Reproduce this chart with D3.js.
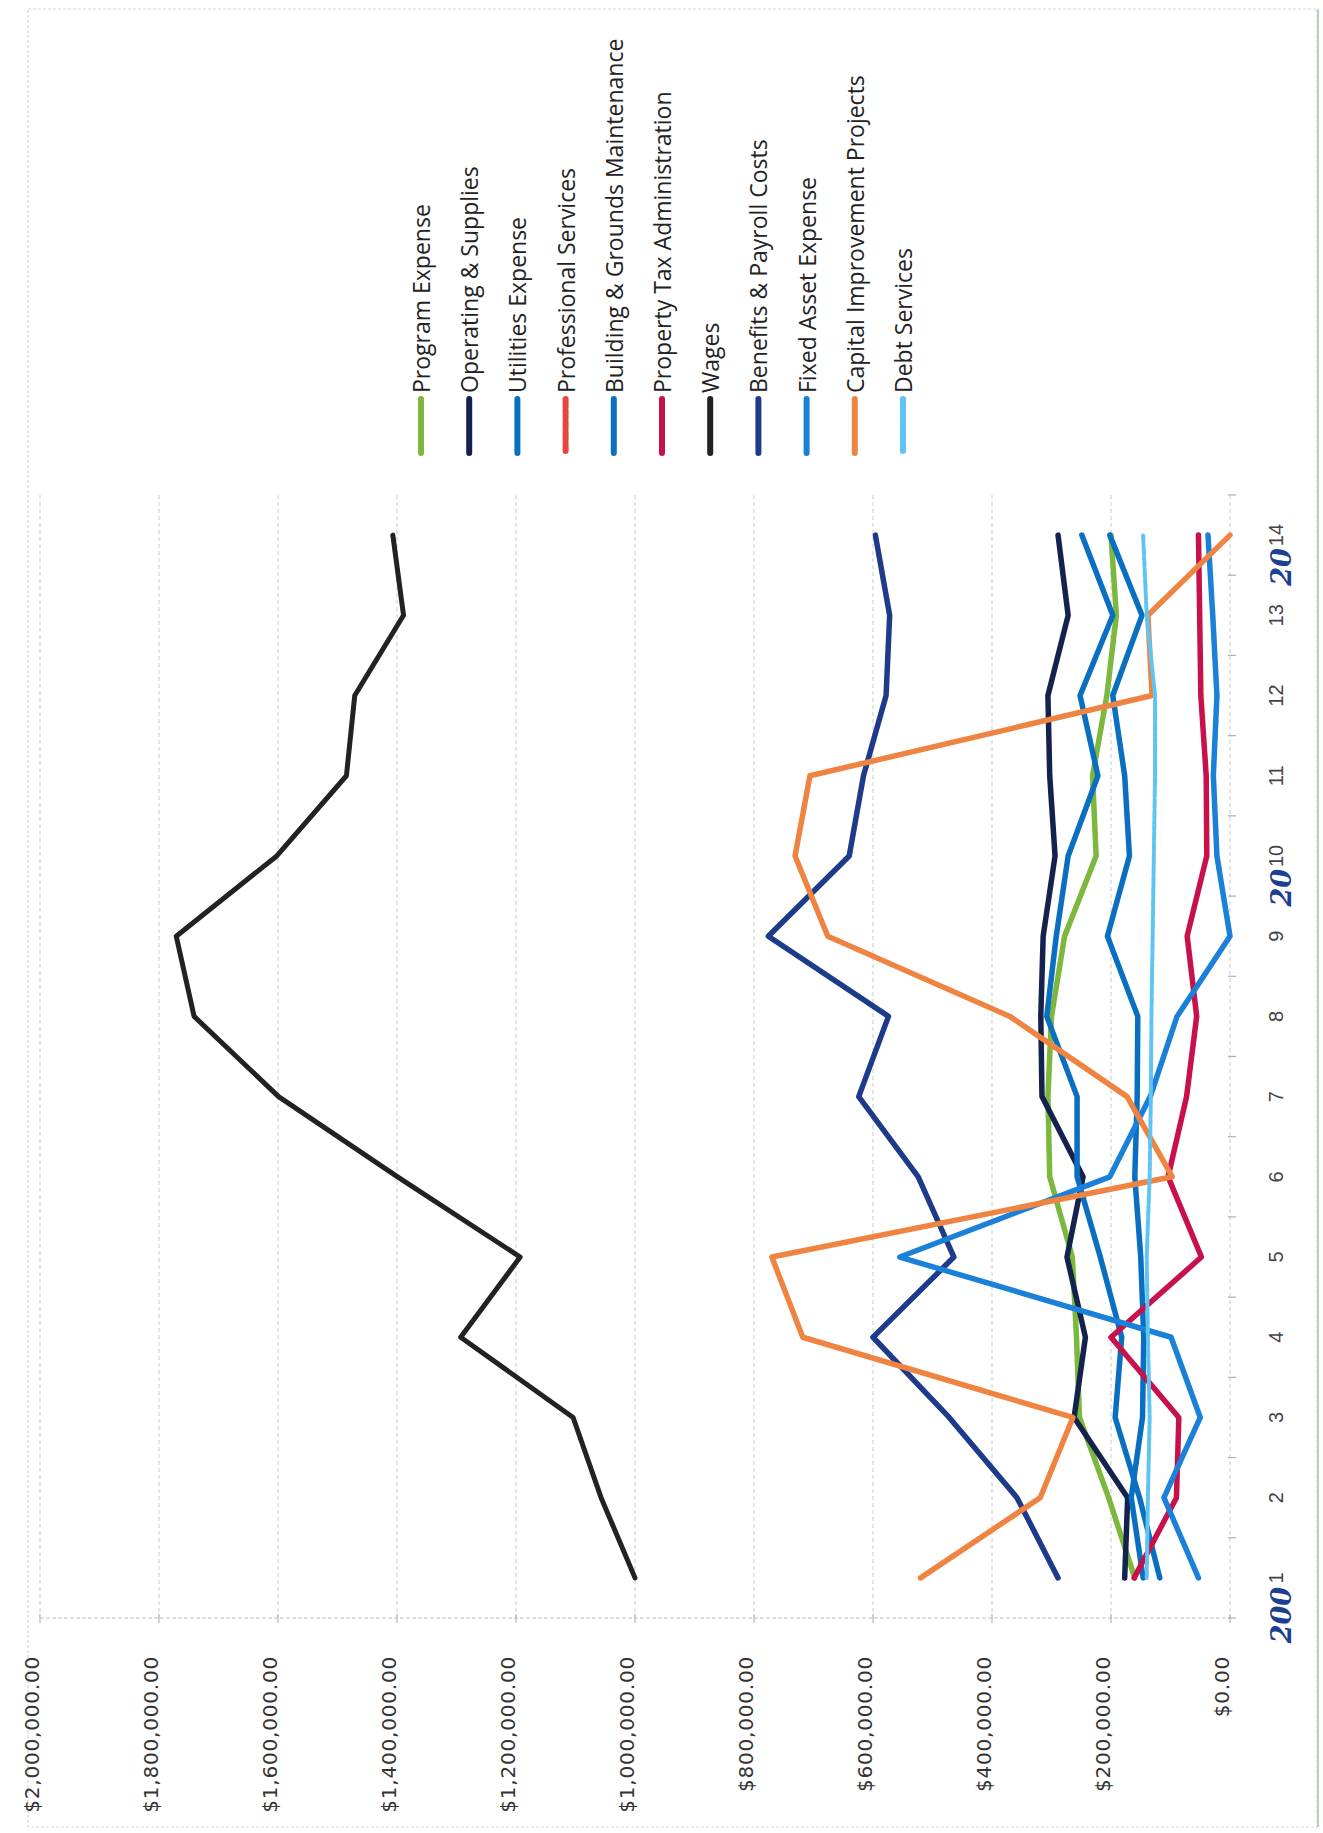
<!DOCTYPE html>
<html><head><meta charset="utf-8">
<script src="https://cdn.jsdelivr.net/npm/d3@7"></script>
<style>body{margin:0;background:#fff}svg{display:block}</style>
</head><body>
<svg id="chart" width="1323" height="1833"></svg>
<script>
// ---- data ----
const categories = ["1","2","3","4","5","6","7","8","9","10","11","12","13","14"];
const programExpense       = [160000, 204000, 253000, 258000, 265000, 303000, 306000, 300000, 278000, 225000, 231000, 207000, 191000, 200000];
const operatingSupplies    = [177000, 172000, 262000, 243000, 274000, 247000, 316000, 318000, 314000, 294000, 303000, 306000, 272000, 289000];
const utilitiesExpense     = [146000, 166000, 147000, 145000, 150000, 160000, 156000, 155000, 206000, 169000, 177000, 197000, 148000, 202000];
const professionalServices = [null, null, null, null, null, null, null, null, null, null, null, null, null, null];
const buildingGrounds      = [118000, 152000, 193000, 182000, 218000, 257000, 257000, 308000, 292000, 272000, 222000, 252000, 197000, 249000];
const propertyTaxAdmin     = [161000, 90000, 86000, 200000, 48000, 104000, 73000, 56000, 72000, 39000, 40000, 49000, 51000, 53000];
const wages                = [1000000, 1057000, 1104000, 1293000, 1193000, 1399000, 1599000, 1741000, 1771000, 1602000, 1485000, 1471000, 1389000, 1407000];
const benefitsPayroll      = [289000, 358000, 472000, 600000, 464000, 524000, 624000, 574000, 776000, 640000, 616000, 578000, 572000, 596000];
const fixedAssetExpense    = [53000, 111000, 50000, 99000, 555000, 202000, 134000, 89000, 0, 22000, 28000, 22000, 29000, 37000];
const capitalImprovement   = [520000, 319000, 264000, 718000, 770000, 97000, 173000, 370000, 676000, 731000, 706000, 131000, 138000, 0];
const debtServices         = [140000, 138000, 135000, 138000, 140000, 135000, 133000, 132000, 130000, 128000, 126000, 126000, 140000, 146000];
const seriesNames  = ["Program Expense","Operating & Supplies","Utilities Expense","Professional Services","Building & Grounds Maintenance","Property Tax Administration","Wages","Benefits & Payroll Costs","Fixed Asset Expense","Capital Improvement Projects","Debt Services"];
const seriesValues = [programExpense, operatingSupplies, utilitiesExpense, professionalServices, buildingGrounds, propertyTaxAdmin, wages, benefitsPayroll, fixedAssetExpense, capitalImprovement, debtServices];
const seriesColors = ["#7cb83e","#15224d","#0b6fc1","#e8453c","#0b6fc1","#c8104a","#222222","#1e3a8a","#1a80d8","#ef8442","#5ec4f2"];
const valueTicks = [0, 200000, 400000, 600000, 800000, 1000000, 1200000, 1400000, 1600000, 1800000, 2000000];
// handwritten year notes on the category axis
const noteCategories = ["1", "10", "14"];
const noteTexts = ["200", "20", "20"];

// ---- layout (chart is printed rotated a quarter turn) ----
const svg = d3.select("#chart");
const plotTop = 495, plotBottom = 1618, valRight = 1230, valLeft = 40;

const xVal = d3.scaleLinear().domain([0, 2000000]).range([valRight, valLeft]);
const yCat = d3.scalePoint().domain(categories).range([plotBottom, plotTop]).padding(0.5);
const band = yCat.step();

// page border
svg.append("rect").attr("x", 28).attr("y", 9).attr("width", 1289).attr("height", 1818)
  .attr("fill", "none").attr("stroke", "#d6dad6").attr("stroke-width", 1.2).attr("stroke-dasharray", "3,2");
svg.append("line").attr("x1", 1318).attr("x2", 1318).attr("y1", 9).attr("y2", 1827)
  .attr("stroke", "#9fc79a").attr("stroke-width", 1.5);

// gridlines (vertical, one per value tick)
const grid = svg.append("g");
grid.selectAll("line").data(valueTicks).join("line")
  .attr("x1", d => xVal(d)).attr("x2", d => xVal(d))
  .attr("y1", plotTop).attr("y2", plotBottom)
  .attr("stroke", "#cdd1d4").attr("stroke-width", 1.1).attr("stroke-dasharray", "4,3");
// value axis line at bottom with ticks
svg.append("line").attr("x1", valLeft).attr("x2", valRight).attr("y1", plotBottom).attr("y2", plotBottom)
  .attr("stroke", "#bfc4c8").attr("stroke-width", 1.2).attr("stroke-dasharray", "4,2");
svg.append("g").selectAll("line").data(valueTicks).join("line")
  .attr("x1", d => xVal(d)).attr("x2", d => xVal(d)).attr("y1", plotBottom - 4).attr("y2", plotBottom + 5)
  .attr("stroke", "#b5babf").attr("stroke-width", 1.2);
// category axis ticks (at band boundaries)
const boundaries = d3.range(categories.length + 1).map(i => plotBottom - i * band);
svg.append("g").selectAll("line").data(boundaries).join("line")
  .attr("x1", valRight - 2).attr("x2", valRight + 6).attr("y1", d => d).attr("y2", d => d)
  .attr("stroke", "#aab0b6").attr("stroke-width", 1.2);

// value labels (rotated)
const fmt = d3.format("$,.2f");
svg.append("g").selectAll("text").data(valueTicks).join("text")
  .attr("transform", d => `translate(${xVal(d) - 8},1656) rotate(-90)`)
  .attr("text-anchor", "end").attr("dominant-baseline", "central")
  .attr("font-family", "DejaVu Sans, Verdana, sans-serif").attr("font-size", 20)
  .attr("letter-spacing", 0.8).attr("fill", "#333")
  .text(d => fmt(d));

// category labels (rotated)
svg.append("g").selectAll("text").data(categories).join("text")
  .attr("transform", d => `translate(1276,${yCat(d)}) rotate(-90)`)
  .attr("text-anchor", "middle").attr("dominant-baseline", "central")
  .attr("font-family", "Liberation Sans Narrow, Liberation Sans, sans-serif").attr("font-size", 20)
  .attr("fill", "#444").text(d => d);

// handwritten notes
svg.append("g").selectAll("text").data(noteCategories).join("text")
  .attr("transform", (d, i) => `translate(1281,${yCat(d) + (d.length > 1 ? 13 : 9)}) rotate(-90)`)
  .attr("text-anchor", "end").attr("dominant-baseline", "central")
  .attr("font-family", "DejaVu Serif, serif").attr("font-style", "italic").attr("font-weight", "bold")
  .attr("font-size", 27).attr("fill", "#1d3f8f")
  .text((d, i) => noteTexts[i]);

// lines
const line = d3.line()
  .defined(d => d.v !== null)
  .x(d => xVal(d.v)).y(d => yCat(d.c));
const linesG = svg.append("g");
seriesNames.forEach((name, i) => {
  const pts = categories.map((c, j) => ({c, v: seriesValues[i][j]}));
  const p = linesG.append("path").datum(pts)
    .attr("d", line).attr("fill", "none")
    .attr("stroke", seriesColors[i])
    .attr("stroke-width", name === "Wages" ? 5 : (name === "Debt Services" ? 4 : 5.5))
    .attr("stroke-linejoin", "round").attr("stroke-linecap", "round");
  if (name === "Debt Services") p.attr("stroke-dasharray", "9,2");
  if (name === "Professional Services") p.attr("stroke-dasharray", "8,3");
});

// legend (rotated)
const legX = d3.scalePoint().domain(seriesNames).range([421, 903]);
const leg = svg.append("g");
seriesNames.forEach((name, i) => {
  const x = legX(name);
  const mk = leg.append("line").attr("x1", x).attr("x2", x).attr("y1", 399).attr("y2", 453)
    .attr("stroke", seriesColors[i]).attr("stroke-width", 6).attr("stroke-linecap", "round");
  if (name === "Debt Services" || name === "Professional Services") mk.attr("stroke-dasharray", "8,3");
  leg.append("text")
    .attr("transform", `translate(${x},393) rotate(-90)`)
    .attr("text-anchor", "start").attr("dominant-baseline", "central")
    .attr("font-family", "Open Sans, sans-serif").attr("font-size", 23)
    .attr("fill", "#222").text(name);
});
</script>
</body></html>
